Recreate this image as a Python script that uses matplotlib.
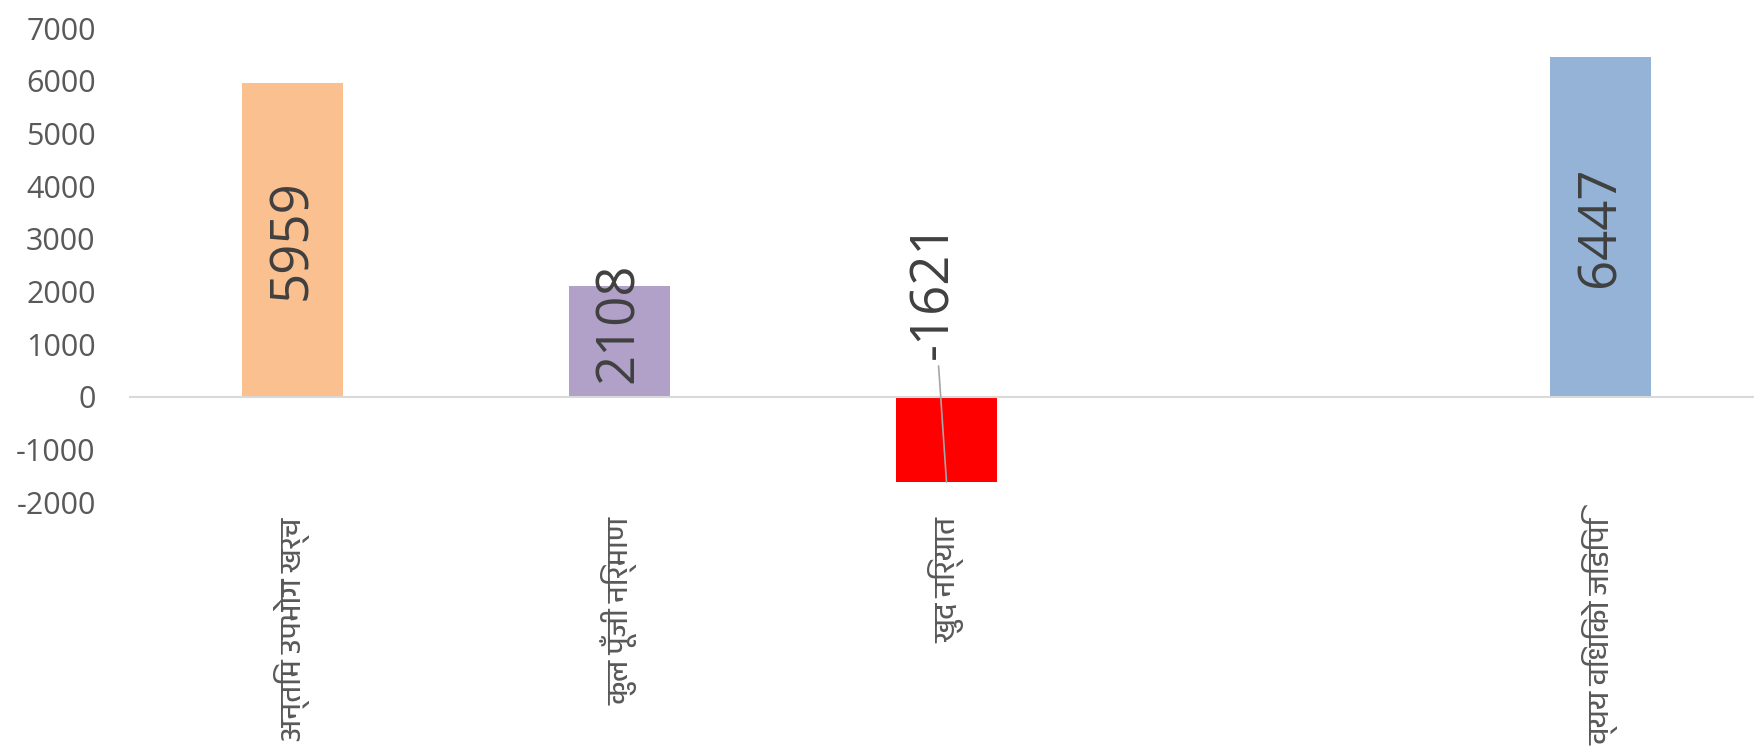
import matplotlib
matplotlib.use("Agg")
import matplotlib.pyplot as plt
from matplotlib import font_manager

# ---- data ----
categories = ["अन्तिम उपभोग खर्च", "कुल पूँजी निर्माण", "खुद निर्यात", "", "व्यय विधिको जिडिपि"]
values = [5959, 2108, -1621, None, 6447]
bar_colors = ["#FAC090", "#B1A0C7", "#FF0000", "#FFFFFF", "#95B3D7"]
yticks = [-2000, -1000, 0, 1000, 2000, 3000, 4000, 5000, 6000, 7000]

# ---- fonts ----
names = {f.name for f in font_manager.fontManager.ttflist}
deva = [n for n in sorted(names) if "Devanagari" in n or n in ("Lohit Hindi", "FreeSans", "Mangal", "Nirmala UI", "Kalimati")]
num_font = "Open Sans" if "Open Sans" in names else "DejaVu Sans"
cat_family = deva + [num_font, "DejaVu Sans"]

fig = plt.figure(figsize=(17.54, 7.49), dpi=100)
ax = fig.add_axes([129 / 1754, 1 - 502 / 749, 1635 / 1754, (502 - 28) / 749])

x = list(range(len(categories)))
for i, (v, c) in enumerate(zip(values, bar_colors)):
    if v is None:
        continue
    ax.bar(i, v, width=0.31, color=c, zorder=2)

ax.set_xlim(-0.5, len(categories) - 0.5)
ax.set_ylim(min(yticks), max(yticks))
ax.set_yticks(yticks)
ax.set_yticklabels([str(t) for t in yticks], fontsize=22, color="#595959", family=num_font)
ax.set_xticks(x)
ax.set_xticklabels(categories, rotation=90, fontsize=21, color="#595959", family=cat_family, va="top")
ax.tick_params(axis="both", length=0)
ax.tick_params(axis="y", pad=24)
ax.tick_params(axis="x", pad=11)
for s in ax.spines.values():
    s.set_visible(False)
ax.axhline(0, color="#D9D9D9", lw=1.5, zorder=3)

# ---- data labels ----
lab_kw = dict(rotation=90, ha="center", fontsize=38, color="#404040", family=num_font, zorder=4)
for i, v in enumerate(values):
    if v is None:
        continue
    if v >= 4000:
        ax.text(i, v / 2, str(v), va="center", **lab_kw)
    elif v >= 0:
        ax.annotate(str(v), xy=(i, 0), xytext=(0, 10), textcoords="offset points",
                    va="bottom", **lab_kw)
    else:
        ax.annotate(str(v), xy=(i, v), xytext=(i - 0.04, 2020), va="center",
                    arrowprops=dict(arrowstyle="-", color="#A6A6A6", lw=1.2,
                                    shrinkA=3, shrinkB=0), **lab_kw)

fig.savefig("out.png", dpi=100)
